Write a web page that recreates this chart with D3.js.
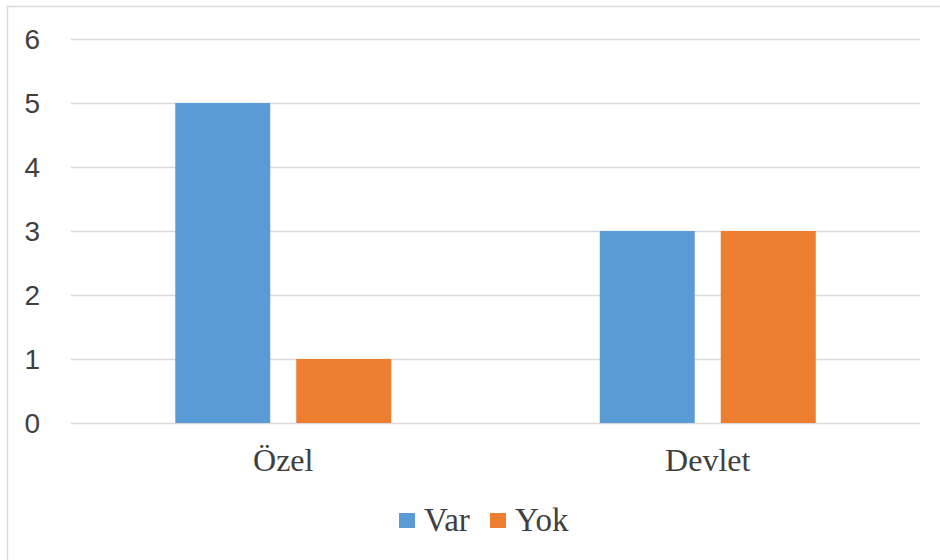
<!DOCTYPE html>
<html><head><meta charset="utf-8">
<script src="https://cdn.jsdelivr.net/npm/d3@7"></script>
<style>body{margin:0;background:#fff}svg{display:block}</style>
</head><body>
<svg id="c" width="940" height="560"></svg>
<script>
const categories = ["Özel", "Devlet"];
const seriesNames = ["Var", "Yok"];
const varValues = [5, 3];
const yokValues = [1, 3];
const yTicks = [0, 1, 2, 3, 4, 5, 6];
const colors = ["#5B9BD5", "#ED7D31"];

(function () {
const svg = d3.select("#c");
svg.append("rect").attr("x", 7.5).attr("y", 6.5).attr("width", 960).attr("height", 600)
  .attr("fill", "#fff").attr("stroke", "#d9d9d9").attr("stroke-width", 1.5);

const pLeft = 71, pRight = 920, pTop = 39, pBottom = 423;
const y = d3.scaleLinear().domain([0, 6]).range([pBottom, pTop]);
const x0 = d3.scaleBand().domain(categories).range([pLeft, pRight]).paddingInner(0.4912).paddingOuter(0.2456);
const x1 = d3.scaleBand().domain(seriesNames).range([0, x0.bandwidth()]).paddingInner(0.2149).paddingOuter(0);

svg.append("g").selectAll("line").data(yTicks).join("line")
  .attr("x1", pLeft).attr("x2", pRight)
  .attr("y1", d => Math.round(y(d)) + 0.5).attr("y2", d => Math.round(y(d)) + 0.5)
  .attr("stroke", "#d9d9d9").attr("stroke-width", 1.3);

svg.append("g").selectAll("text").data(yTicks).join("text")
  .attr("x", 40).attr("y", d => y(d) + 10)
  .attr("text-anchor", "end")
  .attr("font-family", "'Liberation Sans', Arial, sans-serif")
  .attr("font-size", 28).attr("fill", "#404040")
  .text(d => d);

const data = categories.map((c, i) => ({cat: c, vals: [varValues[i], yokValues[i]]}));
const groups = svg.append("g").selectAll("g").data(data).join("g")
  .attr("transform", d => `translate(${x0(d.cat)},0)`);
groups.selectAll("rect").data(d => d.vals.map((v, j) => ({s: seriesNames[j], v, j}))).join("rect")
  .attr("x", d => x1(d.s)).attr("width", x1.bandwidth())
  .attr("y", d => y(d.v)).attr("height", d => y(0) - y(d.v))
  .attr("fill", d => colors[d.j]);

svg.append("g").selectAll("text").data(categories).join("text")
  .attr("x", d => x0(d) + x0.bandwidth() / 2).attr("y", 471)
  .attr("text-anchor", "middle")
  .attr("font-family", "'Liberation Serif', 'Times New Roman', serif")
  .attr("font-size", 32).attr("fill", "#404040")
  .text(d => d);

const legX = [399, 490];
const leg = svg.append("g").selectAll("g").data(seriesNames).join("g")
  .attr("transform", (d, i) => `translate(${legX[i]},0)`);
leg.append("rect").attr("x", 0).attr("y", 513).attr("width", 16).attr("height", 15)
  .attr("fill", (d, i) => colors[i]);
leg.append("text").attr("x", 25).attr("y", 531)
  .attr("font-family", "'Liberation Serif', 'Times New Roman', serif")
  .attr("font-size", 33).attr("fill", "#404040")
  .text(d => d);
})();
</script>
</body></html>
